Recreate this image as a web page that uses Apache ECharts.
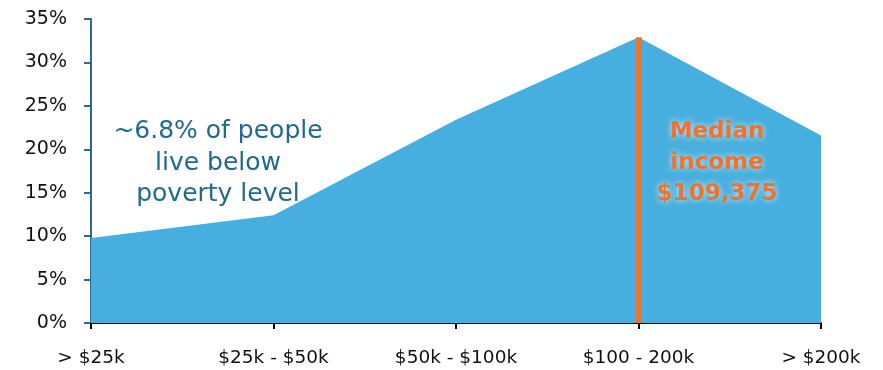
<!DOCTYPE html>
<html>
<head>
<meta charset="utf-8">
<script src="https://cdn.jsdelivr.net/npm/echarts@6/dist/echarts.min.js"></script>
<style>
html,body{margin:0;padding:0;background:#fff;}
#chart{width:883px;height:370px;}
</style>
</head>
<body>
<div id="chart"></div>
<script>
var categories = ['> $25k', '$25k - $50k', '$50k - $100k', '$100 - 200k', '> $200k'];
var shares = [9.8, 12.4, 23.4, 32.9, 21.6];
var medianCategory = '$100 - 200k';
var medianShare = 32.9;
var yTicks = [0, 35, 5];
var povertyNote = ['~6.8% of people', 'live below', 'poverty level'];
var medianNote = ['Median', 'income', '$109,375'];

var chart = echarts.init(document.getElementById('chart'));
chart.setOption({
  animation: false,
  grid: {left: 91, right: 62, top: 19, bottom: 47},
  xAxis: {
    type: 'category',
    data: categories,
    boundaryGap: false,
    axisLine: {lineStyle: {color: '#000', width: 2}},
    axisTick: {show: true, length: 6, lineStyle: {color: '#000', width: 2}},
    axisLabel: {color: '#111', fontSize: 18.5, fontFamily: 'DejaVu Sans', margin: 26}
  },
  yAxis: {
    type: 'value',
    min: yTicks[0], max: yTicks[1], interval: yTicks[2],
    splitLine: {show: false},
    axisLine: {show: true, lineStyle: {color: '#2B6A88', width: 2}},
    axisTick: {show: true, length: 7, lineStyle: {color: '#2B6A88', width: 2}},
    axisLabel: {formatter: '{value}%', color: '#111', fontSize: 19, fontFamily: 'DejaVu Sans', margin: 24}
  },
  series: [{
    type: 'line',
    data: shares,
    symbol: 'none',
    lineStyle: {width: 0},
    areaStyle: {color: '#47AFDF', opacity: 1},
    z: 1,
    markLine: {
      silent: true,
      symbol: 'none',
      label: {show: false},
      lineStyle: {color: '#E8772E', width: 6, type: 'solid'},
      data: [[{coord: [medianCategory, 0]}, {coord: [medianCategory, medianShare]}]]
    }
  }],
  graphic: [
    {
      type: 'text', x: 218, y: 163, z: 10,
      style: {
        text: povertyNote.join('\n'),
        textAlign: 'center', textVerticalAlign: 'middle', align: 'center', verticalAlign: 'middle',
        fill: '#23698B', fontSize: 25, fontFamily: 'DejaVu Sans', lineHeight: 31.5
      }
    },
    {
      type: 'text', x: 717, y: 163, z: 10,
      style: {
        text: medianNote.join('\n'),
        textAlign: 'center', textVerticalAlign: 'middle', align: 'center', verticalAlign: 'middle',
        fill: '#ED7430', fontSize: 23, fontWeight: 'bold', fontFamily: 'DejaVu Sans', lineHeight: 31,
        textShadowColor: 'rgba(255,255,255,0.75)', textShadowBlur: 6
      }
    }
  ]
});
</script>
</body>
</html>
